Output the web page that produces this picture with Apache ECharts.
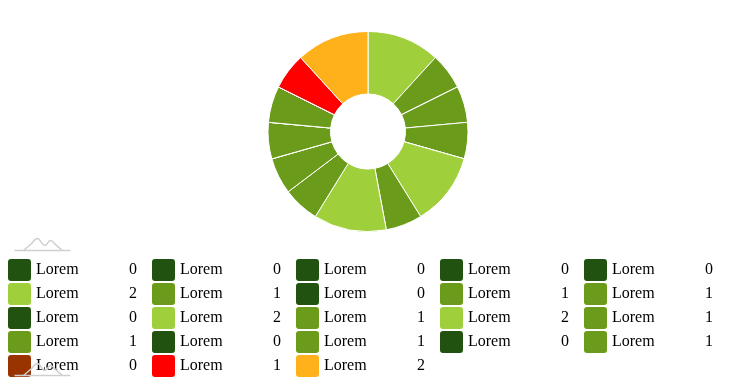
<!DOCTYPE html>
<html><head><meta charset="utf-8">
<script src="https://cdn.jsdelivr.net/npm/echarts@6/dist/echarts.min.js"></script>
<style>html,body{margin:0;padding:0;background:#fff}#c{width:735px;height:391px}</style>
</head><body><div id="c"></div>
<script>
var labels = ["Lorem","Lorem","Lorem","Lorem","Lorem","Lorem","Lorem","Lorem","Lorem","Lorem","Lorem","Lorem","Lorem","Lorem","Lorem","Lorem","Lorem","Lorem","Lorem","Lorem","Lorem","Lorem","Lorem"];
var values = [0,0,0,0,0, 2,1,0,1,1, 0,2,1,2,1, 1,0,1,0,1, 0,1,2];
var colors = ["#22520f","#22520f","#22520f","#22520f","#22520f",
              "#9fd03c","#6b9b1a","#22520f","#6b9b1a","#6b9b1a",
              "#22520f","#9fd03c","#6b9b1a","#9fd03c","#6b9b1a",
              "#6b9b1a","#22520f","#6b9b1a","#22520f","#6b9b1a",
              "#993300","#ff0000","#ffb11b"];

var data = values.map(function(v,i){
  return {name: labels[i] + '\u200b' + i, value: v, itemStyle:{color: colors[i]}};
});
var lookup = {};
data.forEach(function(d,i){ lookup[d.name] = i; });

var chart = echarts.init(document.getElementById('c'), null, {renderer:'canvas'});

function logo(x, y){
  var s = {stroke:'#cfcfcf', lineWidth:1.5, fill:null};
  return {
    type:'group', left:x, top:y, silent:true, z:100,
    children:[
      {type:'line', z:100, shape:{x1:0,y1:13,x2:56,y2:13}, style:s},
      {type:'polyline', z:100, shape:{smooth:0.4, points:[[9,13],[16,7],[23,1],[30,8],[36,3],[42,8],[48,13]]}, style:s}
    ]
  };
}

chart.setOption({
  animation:false,
  graphic:[logo(12,236), logo(12,361)],
  legend:{
    left:8, top:258, width:725, padding:0,
    itemWidth:23, itemHeight:22, itemGap:0,
    icon:'path://M3,0 H20 Q23,0 23,3 V19 Q23,22 20,22 H3 Q0,22 0,19 V3 Q0,0 3,0 Z',
    itemStyle:{borderWidth:0},
    selectedMode:false,
    data: data.map(function(d){return d.name;}),
    formatter:function(name){
      var i = lookup[name];
      return '{a|' + labels[i] + '}{b|' + values[i] + '}';
    },
    textStyle:{
      fontFamily:'Liberation Serif', fontSize:16, color:'#000', lineHeight:24,
      rich:{
        a:{width:93, align:'left', fontFamily:'Liberation Serif', fontSize:16, color:'#000'},
        b:{width:8, align:'left', padding:[0,15,0,0], fontFamily:'Liberation Serif', fontSize:16, color:'#000'}
      }
    }
  },
  series:[{
    type:'pie',
    center:[368,131.5],
    radius:[37.5,100],
    startAngle:90,
    clockwise:true,
    label:{show:false},
    labelLine:{show:false},
    emphasis:{disabled:true},
    itemStyle:{borderColor:'#ffffff', borderWidth:1},
    data:data
  }]
});
</script>
</body></html>
